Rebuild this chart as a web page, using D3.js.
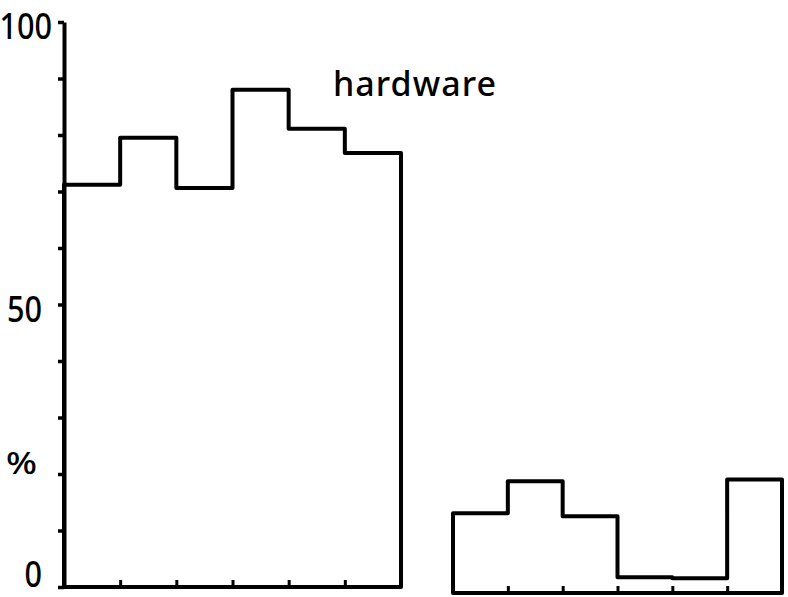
<!DOCTYPE html>
<html>
<head>
<meta charset="utf-8">
<script src="https://cdn.jsdelivr.net/npm/d3@7"></script>
<style>
  body { margin: 0; background: #fff; }
  svg text { font-family: "Noto Sans", "DejaVu Sans", sans-serif; fill: #000; font-weight: 500; }
</style>
</head>
<body>
<div id="chart"></div>
<script>
// 値（%）: 左パネル6区間、右パネル6区間
const leftValues = [71.2, 79.5, 70.6, 88.0, 81.1, 76.8];
const rightValues = [14.1, 19.8, 13.6, 2.8, 2.6, 20.1];
const yTicks = d3.range(0, 101, 10);
const yLabels = [{ v: 100, t: "100" }, { v: 50, t: "50" }, { v: 0, t: "0" }];
const seriesLabel = "hardware";

const width = 788, height = 597;
const svg = d3.select("#chart").append("svg")
  .attr("width", width).attr("height", height);

// y軸スケール（右パネルは原図で少し下にずれている）
const y1 = d3.scaleLinear().domain([0, 100]).range([587, 22]);
const y2 = d3.scaleLinear().domain([0, 100]).range([593, 28]);
const x1 = d3.scaleLinear().domain([0, leftValues.length]).range([64, 401]);
const x2 = d3.scaleLinear().domain([0, rightValues.length]).range([453, 782]);

// 階段状の輪郭を描く
const drawSteps = (values, x, y) => {
  const p = d3.path();
  p.moveTo(x(0), y(0));
  values.forEach((v, i) => {
    p.lineTo(x(i), y(v));
    p.lineTo(x(i + 1), y(v));
  });
  p.lineTo(x(values.length), y(0));
  p.closePath();
  svg.append("path")
    .attr("d", p.toString())
    .attr("fill", "none")
    .attr("stroke", "#000")
    .attr("stroke-width", 4)
    .attr("stroke-linejoin", "round");

  // 内向きの目盛り
  svg.append("g")
    .attr("transform", "translate(0," + y(0) + ")")
    .call(d3.axisTop(x).tickValues(d3.range(1, values.length)).tickSize(7).tickFormat(""))
    .call(g => g.select(".domain").remove())
    .selectAll("line").attr("stroke", "#000").attr("stroke-width", 3);
};

drawSteps(leftValues, x1, y1);
drawSteps(rightValues, x2, y2);

// y軸
const yAxis = svg.append("g")
  .attr("transform", "translate(" + x1(0) + ",0)")
  .call(d3.axisLeft(y1).tickValues(yTicks).tickSize(6).tickFormat("").tickSizeOuter(0));
yAxis.select(".domain").attr("stroke", "#000").attr("stroke-width", 4);
yAxis.selectAll("line").attr("stroke", "#000").attr("stroke-width", 3.5);

svg.selectAll(".ylab")
  .data(yLabels)
  .enter()
  .append("text")
  .attr("class", "ylab")
  .attr("x", d => d.v === 100 ? 52 : 42)
  .attr("y", d => y1(d.v) + (d.v === 0 ? 0 : 17))
  .attr("text-anchor", "end")
  .attr("font-size", 37)
  .attr("textLength", d => d.t.length * 17.5)
  .attr("lengthAdjust", "spacingAndGlyphs")
  .text(d => d.t);

svg.append("text")
  .attr("x", 6)
  .attr("y", 474)
  .attr("font-size", 30)
  .attr("textLength", 31)
  .attr("lengthAdjust", "spacingAndGlyphs")
  .text("%");

svg.append("text")
  .attr("x", 333)
  .attr("y", 96)
  .attr("font-size", 34)
  .attr("textLength", 163)
  .attr("lengthAdjust", "spacing")
  .text(seriesLabel);
</script>
</body>
</html>
